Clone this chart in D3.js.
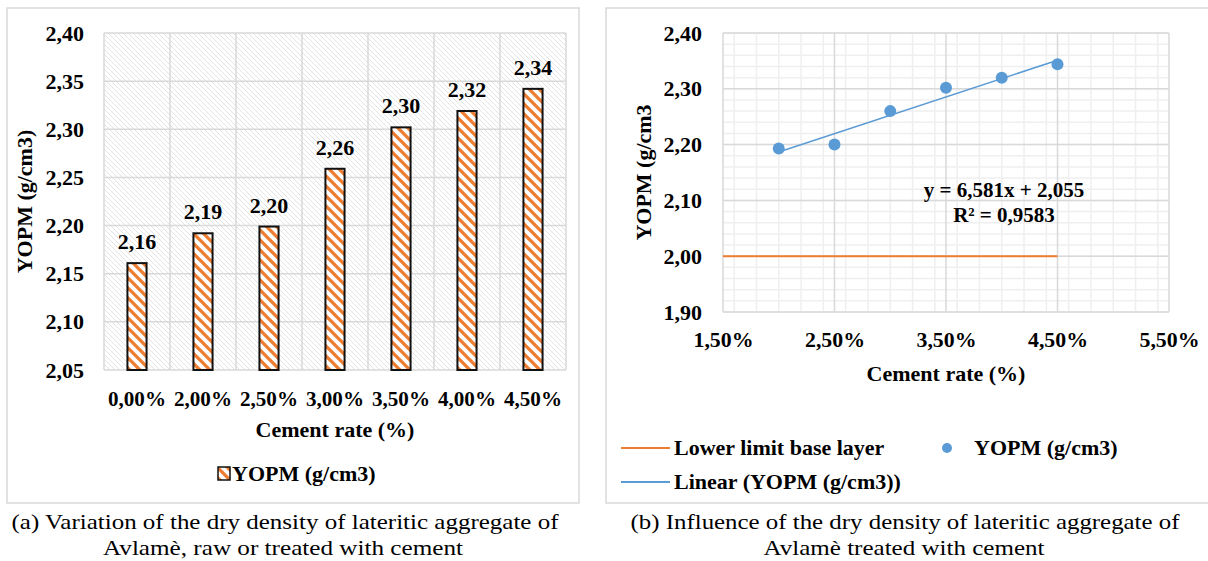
<!DOCTYPE html>
<html>
<head>
<meta charset="utf-8">
<script src="https://cdn.jsdelivr.net/npm/d3@7"></script>
<style>
  body { margin: 0; background: #fff; }
  svg { display: block; }
  svg text { font-family: 'Times New Roman', 'Liberation Serif', Tinos, Times, serif; }
</style>
</head>
<body>
<svg id="chart" width="1208" height="561"></svg>
<script>
// chart (a) : bars
const barCategories = ['0,00%', '2,00%', '2,50%', '3,00%', '3,50%', '4,00%', '4,50%']
const barValues = [2.161, 2.192, 2.199, 2.259, 2.302, 2.319, 2.342]
const barTicks = [2.05, 2.10, 2.15, 2.20, 2.25, 2.30, 2.35, 2.40]

// chart (b) : scatter + trend
const scatterX = [0.020, 0.025, 0.030, 0.035, 0.040, 0.045]
const scatterY = [2.193, 2.200, 2.260, 2.302, 2.320, 2.344]
const xTicksB = [0.015, 0.025, 0.035, 0.045, 0.055]
const lowerLimit = 2.00
const lowerLimitX = [0.015, 0.045]
const trendSlope = 6.581
const trendIntercept = 2.055
const rSquared = '0,9583'

const ORANGE = '#ED7D31'
const BLUE = '#5B9BD5'
const GRID = '#d9d9d9'
const MINOR = '#efefef'

const locale = d3.formatLocale({ decimal: ',', thousands: ' ', grouping: [3], currency: ['', ''] })
const fmt2 = locale.format('.2f')
const pct2 = locale.format('.2%')

const svg = d3.select('#chart')
const defs = svg.append('defs')

// light hatch in plot background
const bgPat = defs.append('pattern')
  .attr('id', 'bgHatch')
  .attr('patternUnits', 'userSpaceOnUse')
  .attr('width', 5).attr('height', 5)
bgPat.append('path')
  .attr('d', 'M0,0 L5,5 M-1,4 L1,6 M4,-1 L6,1')
  .attr('stroke', '#dcdcdc').attr('stroke-width', 0.8)

// orange hatch for bars
const barPat = defs.append('pattern')
  .attr('id', 'barHatch')
  .attr('patternUnits', 'userSpaceOnUse')
  .attr('width', 10).attr('height', 10)
barPat.append('rect').attr('width', 10).attr('height', 10).attr('fill', '#fff')
barPat.append('path')
  .attr('d', 'M0,0 L10,10 M-3,7 L3,13 M7,-3 L13,3')
  .attr('stroke', ORANGE).attr('stroke-width', 3.3)

// panel frames
svg.append('rect')
  .attr('x', 7).attr('y', 8).attr('width', 572).attr('height', 495)
  .attr('fill', 'none').attr('stroke', GRID).attr('stroke-width', 1.5)
svg.append('rect')
  .attr('x', 606).attr('y', 8).attr('width', 610).attr('height', 495)
  .attr('fill', 'none').attr('stroke', GRID).attr('stroke-width', 1.5)

// ---------------- chart (a)
const A = { left: 104, right: 566, top: 33, bottom: 370 }

const xA = d3.scaleBand()
  .domain(barCategories)
  .range([A.left, A.right])
  .padding(0)
const yA = d3.scaleLinear()
  .domain([2.05, 2.40])
  .range([A.bottom, A.top])

const gA = svg.append('g')

gA.append('rect')
  .attr('x', A.left).attr('y', A.top)
  .attr('width', A.right - A.left).attr('height', A.bottom - A.top)
  .attr('fill', 'url(#bgHatch)')

gA.append('g')
  .selectAll('line')
  .data(barTicks)
  .join('line')
  .attr('x1', A.left).attr('x2', A.right)
  .attr('y1', d => yA(d)).attr('y2', d => yA(d))
  .attr('stroke', GRID).attr('stroke-width', 1.5)

gA.append('g')
  .selectAll('line')
  .data(barCategories.concat(['end']))
  .join('line')
  .attr('x1', (d, i) => A.left + i * xA.step())
  .attr('x2', (d, i) => A.left + i * xA.step())
  .attr('y1', A.top).attr('y2', A.bottom)
  .attr('stroke', GRID).attr('stroke-width', 1.5)

const barW = xA.bandwidth() * 0.29

gA.append('g')
  .selectAll('rect')
  .data(barValues)
  .join('rect')
  .attr('x', (d, i) => xA(barCategories[i]) + (xA.bandwidth() - barW) / 2)
  .attr('y', d => yA(d))
  .attr('width', barW)
  .attr('height', d => yA(2.05) - yA(d))
  .attr('fill', 'url(#barHatch)')
  .attr('stroke', '#111').attr('stroke-width', 2)

gA.append('g')
  .selectAll('text')
  .data(barValues)
  .join('text')
  .attr('x', (d, i) => xA(barCategories[i]) + xA.bandwidth() / 2)
  .attr('y', d => yA(d) - 14)
  .attr('text-anchor', 'middle')
  .attr('font-size', 22).attr('font-weight', 'bold')
  .text(d => fmt2(d))

const axLeftA = gA.append('g')
  .attr('transform', `translate(${A.left},0)`)
  .call(d3.axisLeft(yA).tickValues(barTicks).tickFormat(fmt2).tickSize(0).tickPadding(20))
const axBottomA = gA.append('g')
  .attr('transform', `translate(0,${A.bottom})`)
  .call(d3.axisBottom(xA).tickSize(0).tickPadding(20))
for (const ax of [axLeftA, axBottomA]) {
  ax.attr('font-family', null)
  ax.select('.domain').remove()
  ax.selectAll('text')
    .attr('font-size', 22).attr('font-weight', 'bold').attr('fill', '#000')
}
axBottomA.selectAll('text')
  .attr('dy', '0.35em').attr('y', 28)
  .attr('textLength', 58).attr('lengthAdjust', 'spacingAndGlyphs')

gA.append('text')
  .attr('x', (A.left + A.right) / 2).attr('y', 437)
  .attr('text-anchor', 'middle')
  .attr('font-size', 22).attr('font-weight', 'bold')
  .text('Cement rate (%)')

gA.append('text')
  .attr('transform', `translate(32,${(A.top + A.bottom) / 2}) rotate(-90)`)
  .attr('text-anchor', 'middle')
  .attr('font-size', 22).attr('font-weight', 'bold')
  .text('YOPM (g/cm3)')

// legend (a)
gA.append('rect')
  .attr('x', 218).attr('y', 467).attr('width', 12).attr('height', 13)
  .attr('fill', 'url(#barHatch)').attr('stroke', '#111').attr('stroke-width', 1.5)
gA.append('text')
  .attr('x', 232).attr('y', 481)
  .attr('font-size', 22).attr('font-weight', 'bold')
  .text('YOPM (g/cm3)')

// ---------------- chart (b)
const B = { left: 723, right: 1169, top: 33, bottom: 312 }

const xB = d3.scaleLinear()
  .domain([0.015, 0.055])
  .range([B.left, B.right])
const yB = d3.scaleLinear()
  .domain([1.90, 2.40])
  .range([B.bottom, B.top])

const gB = svg.append('g')

gB.append('g')
  .selectAll('line')
  .data(xB.ticks(20))
  .join('line')
  .attr('x1', d => xB(d)).attr('x2', d => xB(d))
  .attr('y1', B.top).attr('y2', B.bottom)
  .attr('stroke', MINOR).attr('stroke-width', 1.5)
gB.append('g')
  .selectAll('line')
  .data(yB.ticks(25))
  .join('line')
  .attr('x1', B.left).attr('x2', B.right)
  .attr('y1', d => yB(d)).attr('y2', d => yB(d))
  .attr('stroke', MINOR).attr('stroke-width', 1.5)
gB.append('g')
  .selectAll('line')
  .data(xTicksB)
  .join('line')
  .attr('x1', d => xB(d)).attr('x2', d => xB(d))
  .attr('y1', B.top).attr('y2', B.bottom)
  .attr('stroke', GRID).attr('stroke-width', 1.5)
gB.append('g')
  .selectAll('line')
  .data(yB.ticks(5))
  .join('line')
  .attr('x1', B.left).attr('x2', B.right)
  .attr('y1', d => yB(d)).attr('y2', d => yB(d))
  .attr('stroke', GRID).attr('stroke-width', 1.5)

// lower limit line
gB.append('path')
  .datum(lowerLimitX)
  .attr('d', d3.line().x(d => xB(d)).y(() => yB(lowerLimit)))
  .attr('fill', 'none').attr('stroke', ORANGE).attr('stroke-width', 2)

// linear trend
const trendX = d3.extent(scatterX)
gB.append('path')
  .datum(trendX)
  .attr('d', d3.line().x(d => xB(d)).y(d => yB(trendSlope * d + trendIntercept)))
  .attr('fill', 'none').attr('stroke', BLUE).attr('stroke-width', 1.6)

gB.append('g')
  .selectAll('circle')
  .data(scatterX)
  .join('circle')
  .attr('cx', d => xB(d))
  .attr('cy', (d, i) => yB(scatterY[i]))
  .attr('r', 6)
  .attr('fill', BLUE)

const axLeftB = gB.append('g')
  .attr('transform', `translate(${B.left},0)`)
  .call(d3.axisLeft(yB).ticks(5).tickFormat(fmt2).tickSize(0).tickPadding(21))
const axBottomB = gB.append('g')
  .attr('transform', `translate(0,${B.bottom})`)
  .call(d3.axisBottom(xB).tickValues(xTicksB).tickFormat(pct2).tickSize(0))
for (const ax of [axLeftB, axBottomB]) {
  ax.attr('font-family', null)
  ax.select('.domain').remove()
  ax.selectAll('text')
    .attr('font-size', 22).attr('font-weight', 'bold').attr('fill', '#000')
}
axBottomB.selectAll('text')
  .attr('dy', '0.35em').attr('y', 27)
  .attr('textLength', 60).attr('lengthAdjust', 'spacingAndGlyphs')

gB.append('text')
  .attr('x', (B.left + B.right) / 2).attr('y', 381)
  .attr('text-anchor', 'middle')
  .attr('font-size', 22).attr('font-weight', 'bold')
  .text('Cement rate (%)')

gB.append('text')
  .attr('transform', `translate(651,${(B.top + B.bottom) / 2}) rotate(-90)`)
  .attr('text-anchor', 'middle')
  .attr('font-size', 22).attr('font-weight', 'bold')
  .text('YOPM (g/cm3')

// equation
gB.append('text')
  .attr('x', 1004).attr('y', 197)
  .attr('text-anchor', 'middle')
  .attr('font-size', 21).attr('font-weight', 'bold')
  .text(`y = ${locale.format('.3f')(trendSlope)}x + ${locale.format('.3f')(trendIntercept)}`)
gB.append('text')
  .attr('x', 1004).attr('y', 222)
  .attr('text-anchor', 'middle')
  .attr('font-size', 21).attr('font-weight', 'bold')
  .text(`R² = ${rSquared}`)

// legend (b)
const legB = gB.append('g')
legB.append('line')
  .attr('x1', 621).attr('x2', 670).attr('y1', 448).attr('y2', 448)
  .attr('stroke', ORANGE).attr('stroke-width', 2)
legB.append('text')
  .attr('x', 674).attr('y', 455)
  .attr('font-size', 22).attr('font-weight', 'bold')
  .text('Lower limit base layer')
legB.append('circle')
  .attr('cx', 947).attr('cy', 448).attr('r', 5)
  .attr('fill', BLUE)
legB.append('text')
  .attr('x', 974).attr('y', 455)
  .attr('font-size', 22).attr('font-weight', 'bold')
  .text('YOPM (g/cm3)')
legB.append('line')
  .attr('x1', 621).attr('x2', 670).attr('y1', 482).attr('y2', 482)
  .attr('stroke', BLUE).attr('stroke-width', 2)
legB.append('text')
  .attr('x', 674).attr('y', 489)
  .attr('font-size', 22).attr('font-weight', 'bold')
  .text('Linear (YOPM (g/cm3))')

// captions
const captions = [
  { x: 285, y: 529, w: 547, t: '(a) Variation of the dry density of lateritic aggregate of' },
  { x: 283, y: 555, w: 360, t: 'Avlamè, raw or treated with cement' },
  { x: 905, y: 529, w: 549, t: '(b) Influence of the dry density of lateritic aggregate of' },
  { x: 904, y: 555, w: 281, t: 'Avlamè treated with cement' }
]
svg.append('g')
  .selectAll('text')
  .data(captions)
  .join('text')
  .attr('x', d => d.x).attr('y', d => d.y)
  .attr('text-anchor', 'middle')
  .attr('font-size', 22)
  .attr('textLength', d => d.w).attr('lengthAdjust', 'spacingAndGlyphs')
  .text(d => d.t)
</script>
</body>
</html>
